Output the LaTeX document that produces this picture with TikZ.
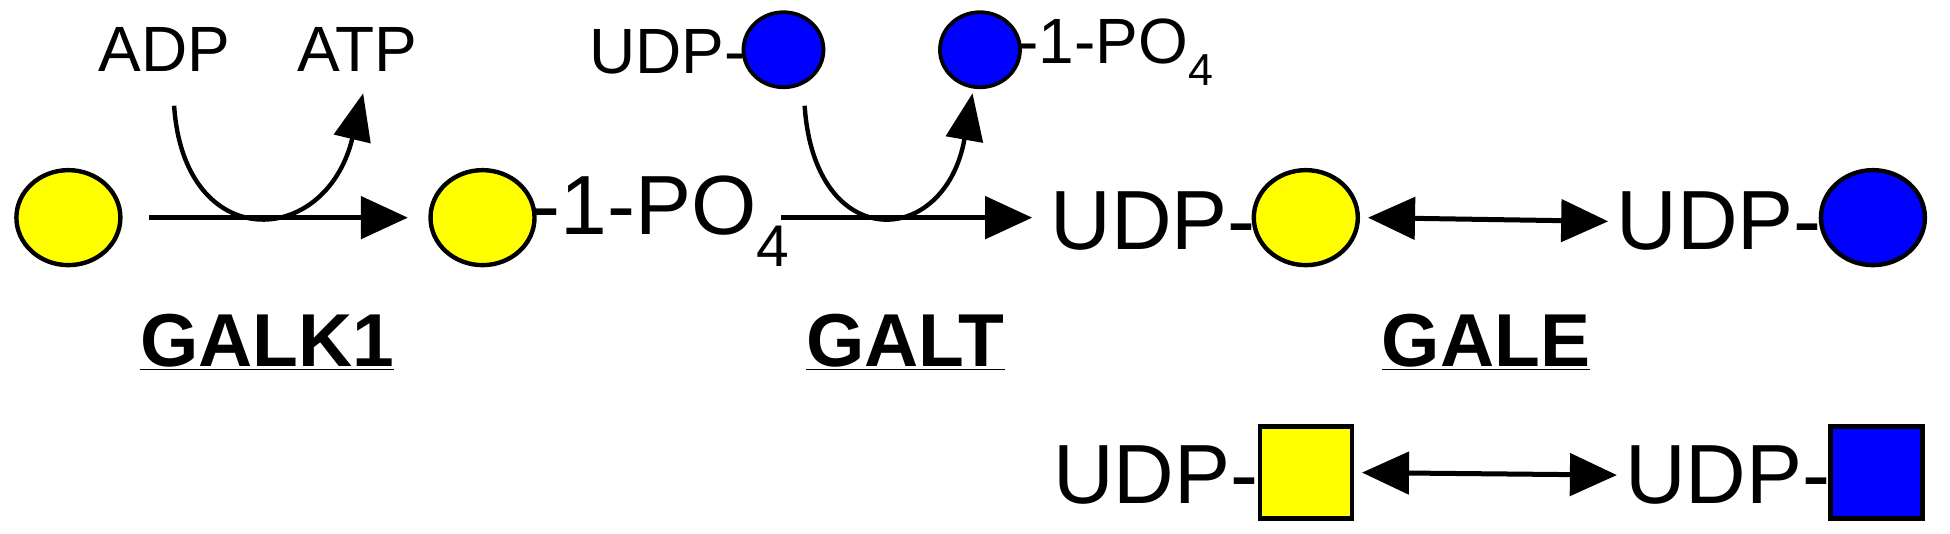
\documentclass[tikz,border=0pt]{standalone}
\usepackage{fontspec}
\setmainfont{Liberation Sans}
\usetikzlibrary{arrows.meta,shapes.geometric}
\begin{document}
\begin{tikzpicture}[x=1.2436pt,y=-1.2436pt,
  sug/.style={draw,line width=4.4pt,ellipse,inner sep=0pt,minimum width=104pt,minimum height=95pt},
  smsug/.style={draw,line width=3.8pt,ellipse,inner sep=0pt,minimum width=80pt,minimum height=75pt},
  sq/.style={draw,line width=4.4pt,inner sep=0pt,minimum size=92pt},
  big/.style={font=\fontsize{84}{90}\selectfont,inner sep=0pt},
  sm/.style={font=\fontsize{64}{70}\selectfont,inner sep=0pt},
  enz/.style={font=\fontsize{75}{80}\bfseries\selectfont,inner sep=0pt},
  arr/.style={line width=5pt,-{Triangle[length=47pt,width=42pt]}},
  darr/.style={line width=5pt,{Triangle[length=47pt,width=42pt]}-{Triangle[length=47pt,width=42pt]}},
  crv/.style={line width=4.4pt,-{Triangle[length=47pt,width=37pt]}}]
\useasboundingbox (0,0) rectangle (1568,428.6);
\definecolor{gy}{RGB}{255,255,0}
\definecolor{bl}{RGB}{0,0,255}
% row 1
\node[sug,fill=gy] (c1) at (55,175) {};
\node[sug,fill=gy] (c2) at (388,175) {};
\node[big,anchor=west] (p1) at (428,178) {-1-PO\textsubscript{4}};
\node[big,anchor=east] (u1) at (1010,178) {UDP-};
\node[sug,fill=gy] (c3) at (1050,175) {};
\node[big,anchor=east] (u2) at (1465,178) {UDP-};
\node[sug,fill=bl] (c4) at (1506,175) {};
% cofactors
\node[sm] (adp) at (132,40) {ADP};
\node[sm] (atp) at (287,40) {ATP};
\node[sm,anchor=east] (u3) at (600,42) {UDP-};
\node[smsug,fill=bl] (b1) at (630,40) {};
\node[smsug,fill=bl] (b2) at (788,40) {};
\node[sm,anchor=west] (p2) at (818,42) {-1-PO\textsubscript{4}};
% arrows
\coordinate (a1s) at (120,175); \coordinate (a1e) at (328,175);
\draw[arr] (a1s) -- (a1e);
\coordinate (k1) at (140,85); \coordinate (k2) at (292,75);
\draw[crv] (k1) .. controls (148,205) and (262,200) .. (k2);
\coordinate (a2s) at (628,175); \coordinate (a2e) at (830,175);
\draw[arr] (a2s) -- (a2e);
\coordinate (k3) at (647,85); \coordinate (k4) at (782,75);
\draw[crv] (k3) .. controls (655,205) and (760,200) .. (k4);
\draw[darr] ([xshift=8pt]c3.east) -- ([xshift=-8pt]u2.west);
% enzymes
\node[enz] (g1) at (215,275) {\underline{GALK1}};
\node[enz] (g2) at (728,275) {\underline{GALT}};
\node[enz] (g3) at (1195,275) {\underline{GALE}};
% row 2
\node[big,anchor=east] (u4) at (1012,382) {UDP-};
\node[sq,fill=gy] (s1) at (1050,380) {};
\node[big,anchor=east] (u5) at (1472,382) {UDP-};
\node[sq,fill=bl] (s2) at (1509,380) {};
\draw[darr] ([xshift=8pt]s1.east) -- ([xshift=-8pt]u5.west);
\end{tikzpicture}
\end{document}
